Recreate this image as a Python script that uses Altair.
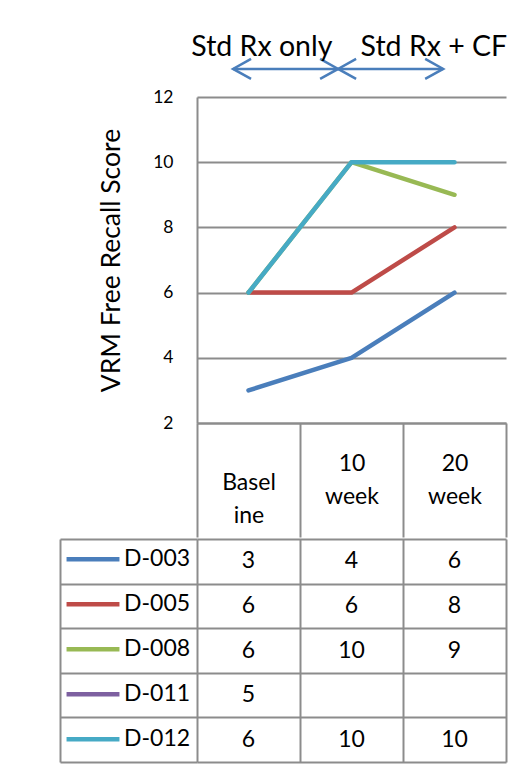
import json
import altair as alt
import pandas as pd

# time points and patients
timepoints = ["Baseline", "10 week", "20 week"]
header_lines = [["Basel", "ine"], ["10", "week"], ["20", "week"]]
patients = ["D-003", "D-005", "D-008", "D-011", "D-012"]
d003 = [3, 4, 6]
d005 = [6, 6, 8]
d008 = [6, 10, 9]
d011 = [5, None, None]
d012 = [6, 10, 10]
line_colors = ["#4a7ebb", "#be4b48", "#98b954", "#7d60a0", "#46aac5"]

# treatment phase annotation (x in column units, 0 = Baseline)
phase_labels = ["Std Rx only", "Std Rx + CF"]
phase_label_x = [0.13, 1.80]
phase_label_y = 13.26
arrow_x = [-0.15, 0.87, 1.89]
arrow_y = 12.86

FONT = "Lato"
GRID = "#8c8c8c"
BLUE = "#4a7ebb"

rows = []
for p, vals in zip(patients, [d003, d005, d008, d011, d012]):
    for t, v in zip(timepoints, vals):
        rows.append({"patient": p, "time": t, "score": v})
scores = pd.DataFrame(rows)

heads = pd.DataFrame({
    "x": [arrow_x[0], arrow_x[1], arrow_x[1], arrow_x[2]],
    "y": [arrow_y] * 4,
    "dir": ["left", "right", "left", "right"],
})
shaft = pd.DataFrame({"x": [arrow_x[0]], "x2": [arrow_x[2]], "y": [arrow_y]})
phases = pd.DataFrame({"x": phase_label_x, "y": [phase_label_y] * 2, "label": phase_labels})

label_expr = " : ".join(
    f"datum.value == '{t}' ? {json.dumps(h)}" for t, h in zip(timepoints, header_lines)
) + " : ''"

y_scale = alt.Scale(domain=[2, 12], nice=False, zero=False)
ann_x = alt.X("x:Q", scale=alt.Scale(domain=[-0.5, 2.5], nice=False, zero=False), axis=None)

lines = alt.Chart(scores).transform_filter(
    "isValid(datum.score)"
).transform_joinaggregate(
    n="count()", groupby=["patient"]
).transform_filter(
    "datum.n > 1"
).mark_line(strokeWidth=4.5, strokeCap="round", strokeJoin="round").encode(
    x=alt.X("time:N", sort=timepoints, bandPosition=0.5,
            scale=alt.Scale(type="band", domain=timepoints, paddingInner=0, paddingOuter=0),
            axis=alt.Axis(title=None, domainColor=GRID, domainWidth=2,
                          tickColor=GRID, tickWidth=2, tickBand="extent", tickSize=114,
                          labelExpr=label_expr,
                          labelPadding=alt.condition("datum.value == 'Baseline'",
                                                     alt.value(-55), alt.value(-74)),
                          labelBaseline="middle",
                          labelAngle=0, labelFont=FONT, labelFontSize=23, labelColor="black",
                          labelLineHeight=33, labelOverlap=False)),
    y=alt.Y("score:Q", scale=y_scale,
            axis=alt.Axis(values=[2, 4, 6, 8, 10, 12], title="VRM Free Recall Score",
                          titleFont=FONT, titleFontSize=26.5, titleFontWeight="normal",
                          titleColor="black", titlePadding=27,
                          labelFont=FONT, labelFontSize=17.5, labelColor="black",
                          labelPadding=24, ticks=False, grid=True, gridColor=GRID,
                          gridWidth=2, domainColor=GRID, domainWidth=2)),
    color=alt.Color("patient:N", scale=alt.Scale(domain=patients, range=line_colors),
                    legend=alt.Legend(orient="none", legendX=-140, legendY=440,
                                      direction="vertical", title=None,
                                      symbolType="stroke", symbolSize=2800,
                                      symbolStrokeWidth=4.5, labelFont=FONT,
                                      labelFontSize=23, labelColor="black",
                                      labelOffset=2, padding=7, clipHeight=30.6,
                                      rowPadding=14)),
)

shaft_rule = alt.Chart(shaft).mark_rule(color=BLUE, strokeWidth=2.5).encode(
    x=ann_x, x2="x2:Q", y=alt.Y("y:Q", scale=y_scale)
)
left_heads = alt.Chart(heads).transform_filter("datum.dir == 'left'").mark_point(
    shape="M1.8,-1L0,0L1.8,1", size=400, filled=False, color=BLUE, strokeWidth=2.5, opacity=1
).encode(x=ann_x, y=alt.Y("y:Q", scale=y_scale))
right_heads = alt.Chart(heads).transform_filter("datum.dir == 'right'").mark_point(
    shape="M-1.8,-1L0,0L-1.8,1", size=400, filled=False, color=BLUE, strokeWidth=2.5, opacity=1
).encode(x=ann_x, y=alt.Y("y:Q", scale=y_scale))
phase_text = alt.Chart(phases).mark_text(
    font=FONT, fontSize=28.5, color="black", baseline="alphabetic", align="center"
).encode(x=ann_x, y=alt.Y("y:Q", scale=y_scale), text="label:N")

top = alt.layer(lines, shaft_rule, left_heads, right_heads, phase_text).resolve_scale(
    x="independent"
).properties(width=309, height=326)

# data table under the plot
table_x = alt.X("time:N", sort=timepoints, bandPosition=0.5,
                scale=alt.Scale(type="band", domain=timepoints, paddingInner=0, paddingOuter=0),
                axis=alt.Axis(title=None, grid=True, gridColor=GRID, gridWidth=2,
                              tickBand="extent", ticks=False, labels=False, domain=False))
row_scale = alt.Scale(type="band", domain=patients, paddingInner=0, paddingOuter=0)

cells = alt.Chart(scores).transform_filter("isValid(datum.score)").mark_text(
    font=FONT, fontSize=23, color="black"
).encode(
    x=table_x,
    y=alt.Y("patient:N", sort=patients, bandPosition=0.5, scale=row_scale,
            axis=alt.Axis(title=None, grid=True, gridColor=GRID, gridWidth=2,
                          tickBand="extent", ticks=True, tickSize=137, tickColor=GRID,
                          tickWidth=2, labels=False, domain=False)),
    text="score:Q",
)
# invisible layer whose axis draws the table's left border
left_border = alt.Chart(scores).mark_text(opacity=0, text="").encode(
    y=alt.Y("patient:N", sort=patients, scale=row_scale,
            axis=alt.Axis(title=None, orient="left", offset=137, domain=True,
                          domainColor=GRID, domainWidth=2, ticks=False, labels=False,
                          grid=False))
)
table = alt.layer(cells, left_border).resolve_axis(y="independent").properties(
    width=309, height=223
)

chart = alt.vconcat(top, table, spacing=0).resolve_scale(
    x="independent", y="independent"
).properties(
    padding={"left": 49, "top": 24, "right": 5, "bottom": 3}
).configure_view(strokeWidth=0)

chart.save("out.html", embed_options={"renderer": "svg", "actions": False})
